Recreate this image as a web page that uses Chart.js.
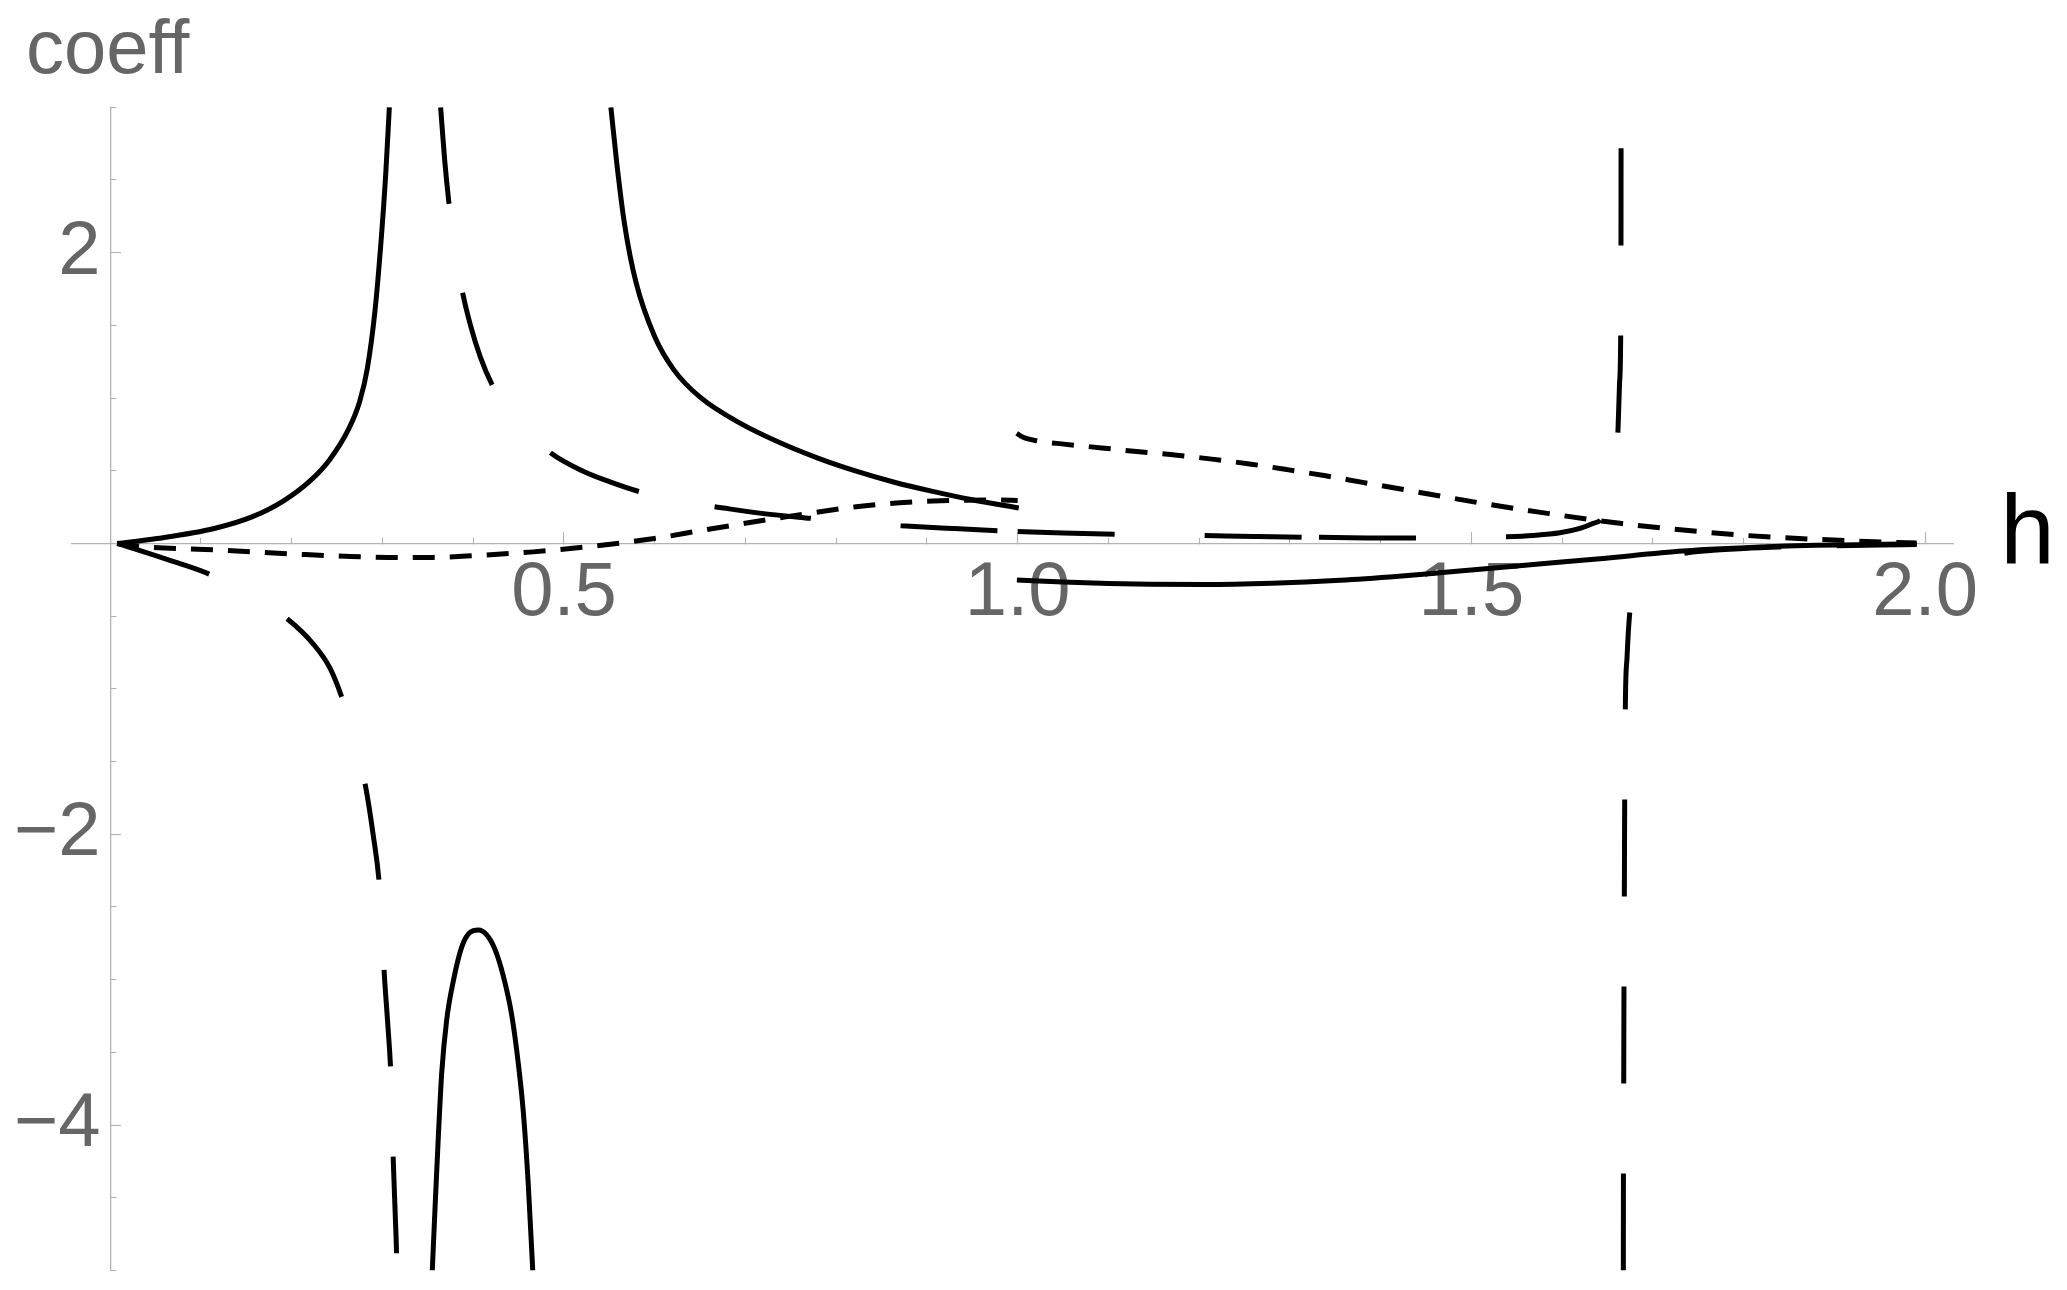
<!DOCTYPE html>
<html>
<head>
<meta charset="utf-8">
<script src="https://cdn.jsdelivr.net/npm/chart.js@4.4.1/dist/chart.umd.min.js"></script>
<style>
html,body{margin:0;padding:0;background:#ffffff;}
#wrap{width:2067px;height:1290px;position:relative;}
</style>
</head>
<body>
<div id="wrap"><canvas id="c" width="2067" height="1290"></canvas></div>
<script>
// ---------- axes ----------
const hMin = -0.042, hMax = 2.031;
const coeffMin = -5, coeffMax = 3;
const xMinorTicks = [0.1,0.2,0.3,0.4,0.5,0.6,0.7,0.8,0.9,1.0,1.1,1.2,1.3,1.4,1.5,1.6,1.7,1.8,1.9,2.0];
const xMajorTicks = [0.5,1.0,1.5,2.0];
const xTickLabels = ['0.5','1.0','1.5','2.0'];
const yMinorTicks = [-5,-4.5,-4,-3.5,-3,-2.5,-2,-1.5,-1,-0.5,0.5,1,1.5,2,2.5,3];
const yMajorTicks = [-4,-2,2];
const yTickLabels = ['\u22124','\u22122','2'];
const xAxisTitle = 'h';
const yAxisTitle = 'coeff';

// ---------- series: [h, coeff] ----------
// solid curves
const solidA = [[0.0077,0],[0.0515,0.034],[0.1147,0.103],[0.1569,0.184],[0.1906,0.291],[0.2202,0.43],[0.2412,0.571],[0.2624,0.782],[0.2749,0.976],[0.2834,1.206],[0.2918,1.602],[0.2982,2.058],[0.3035,2.53],[0.3076,3.0]];
const solidB = [[0.5517,3.0],[0.558,2.627],[0.5665,2.207],[0.5792,1.8],[0.6002,1.419],[0.6213,1.192],[0.65,1.006],[0.6955,0.822],[0.7376,0.694],[0.7798,0.587],[0.822,0.497],[0.8641,0.421],[0.9063,0.358],[0.9485,0.302],[1.0012,0.244]];
const solidC = [[0.9991,-0.252],[1.05,-0.266],[1.1,-0.276],[1.1458,-0.281],[1.2054,-0.283],[1.28,-0.274],[1.3554,-0.253],[1.42,-0.225],[1.4679,-0.2],[1.5804,-0.138],[1.6417,-0.105],[1.7334,-0.052],[1.84,-0.02],[1.8802,-0.013],[1.94,-0.007],[1.9906,-0.003]];
const solidD = [[0.3549,-5.0],[0.3579,-4.576],[0.3616,-4.076],[0.3653,-3.642],[0.3708,-3.276],[0.3781,-3.009],[0.3873,-2.776],[0.3965,-2.675],[0.4056,-2.659],[0.4149,-2.692],[0.424,-2.792],[0.4332,-2.976],[0.4424,-3.242],[0.4497,-3.576],[0.4552,-3.909],[0.4607,-4.409],[0.4656,-5.0]];
// short-dashed curves
const shortLower = [[0.0077,0],[0.0328,-0.02],[0.1174,-0.045],[0.2091,-0.075],[0.265,-0.09],[0.3213,-0.097],[0.356,-0.096],[0.4001,-0.084],[0.4662,-0.058],[0.5213,-0.026],[0.5621,0.003],[0.5998,0.034],[0.6533,0.091],[0.7334,0.172],[0.822,0.252],[0.87,0.28],[0.9063,0.292],[0.9781,0.298],[1.0,0.296]];
const shortUpper = [[0.9989,0.757],[1.006,0.73],[1.0209,0.706],[1.051,0.683],[1.0926,0.657],[1.134,0.63],[1.1755,0.607],[1.2163,0.578],[1.2574,0.545],[1.2986,0.506],[1.3394,0.465],[1.3802,0.42],[1.4205,0.376],[1.4621,0.33],[1.5025,0.286],[1.5425,0.245],[1.5858,0.205],[1.6267,0.168],[1.6659,0.137],[1.708,0.107],[1.7502,0.082],[1.7915,0.06],[1.8324,0.043],[1.8734,0.03],[1.9146,0.019],[1.9568,0.009],[1.9905,0.003]];
// long-dashed curves (pieces)
const longUpper1 = [[0.3641,3.0],[0.3685,2.64],[0.3733,2.339],[0.38,2.02],[0.3881,1.731],[0.397,1.5],[0.408,1.28],[0.421,1.089],[0.437,0.93],[0.455,0.8],[0.4851,0.624],[0.52,0.5],[0.55,0.425],[0.5834,0.356],[0.625,0.3],[0.666,0.252]];
const longUpper2 = [[0.666,0.252],[0.72,0.205],[0.7713,0.173],[0.82,0.145],[0.8717,0.122],[0.93,0.102],[0.9788,0.087],[1.0,0.082]];
const longUpper3 = [[1.0,0.082],[1.05,0.072],[1.1065,0.063],[1.155,0.059],[1.2053,0.054],[1.26,0.048],[1.3136,0.043],[1.332,0.042]];
const longUpper4 = [[1.332,0.042],[1.385,0.038],[1.4397,0.037],[1.49,0.039],[1.5388,0.046],[1.5681,0.055],[1.5975,0.073],[1.6196,0.103],[1.6343,0.138],[1.6435,0.172],[1.651,0.3],[1.6565,0.47],[1.6598,0.64],[1.6615,0.779],[1.6632,1.1],[1.6645,1.441],[1.6648,2.073],[1.6649,2.747],[1.665,3.0]];
const longLower = [[0.0077,0],[0.06,-0.105],[0.1107,-0.215],[0.155,-0.355],[0.1963,-0.525],[0.2238,-0.692],[0.2422,-0.858],[0.2562,-1.076],[0.27,-1.36],[0.2815,-1.675],[0.2899,-2.009],[0.2965,-2.342],[0.2995,-2.65],[0.302,-2.959],[0.3058,-3.3],[0.3091,-3.632],[0.3107,-3.95],[0.312,-4.259],[0.314,-4.6],[0.3157,-4.926],[0.3159,-5.0]];
const longRight1 = [[1.6674,-5.0],[1.6675,-4.336],[1.6678,-3.721],[1.6681,-3.048],[1.6685,-2.421],[1.6689,-1.753],[1.6696,-1.127],[1.6715,-0.78],[1.6747,-0.459],[1.679,-0.33],[1.686,-0.22],[1.695,-0.155],[1.71,-0.105],[1.734,-0.068],[1.76,-0.05],[1.8,-0.035],[1.84,-0.025],[1.87,-0.02],[1.9026,-0.016]];
const longRight2 = [[1.9026,-0.016],[1.95,-0.011],[1.9906,-0.008]];

// ---------- styles ----------
const LONG_DASH = [97, 90];
const SHORT_DASH = [22, 15];
const LINE_W = 5;
const AXIS_COLOR = '#b3b3b3';
const LABEL_COLOR = '#666666';
const FONT = '"Liberation Sans", Arial, sans-serif';

function ds(arr, dash) {
  return {
    data: arr.map(p => ({x: p[0], y: p[1]})),
    showLine: true,
    borderColor: '#000000',
    backgroundColor: '#000000',
    borderWidth: LINE_W,
    borderDash: dash,
    borderDashOffset: 0,
    borderCapStyle: 'butt',
    borderJoinStyle: 'round',
    pointRadius: 0,
    pointHoverRadius: 0,
    cubicInterpolationMode: 'monotone',
    fill: false
  };
}

const datasets = [
  ds(solidA, []), ds(solidB, []), ds(solidC, []), ds(solidD, []),
  ds(shortLower, SHORT_DASH), ds(shortUpper, SHORT_DASH),
  ds(longUpper1, LONG_DASH), ds(longUpper2, LONG_DASH), ds(longUpper3, LONG_DASH), ds(longUpper4, LONG_DASH),
  ds(longLower, LONG_DASH), ds(longRight1, LONG_DASH), ds(longRight2, LONG_DASH)
];

const titlePlugin = {
  id: 'axisTitles',
  afterDraw(chart) {
    const ctx = chart.ctx;
    const xs = chart.scales.x, ys = chart.scales.y;
    ctx.save();
    ctx.textAlign = 'left';
    ctx.textBaseline = 'alphabetic';
    ctx.fillStyle = LABEL_COLOR;
    ctx.font = '76px ' + FONT;
    ctx.fillText(yAxisTitle, 26, 73);
    ctx.fillStyle = '#000000';
    ctx.font = '98px ' + FONT;
    ctx.fillText(xAxisTitle, xs.right + 47, ys.getPixelForValue(0) + 20);
    ctx.restore();
  }
};

new Chart(document.getElementById('c'), {
  type: 'scatter',
  data: { datasets },
  plugins: [titlePlugin],
  options: {
    responsive: false,
    animation: false,
    events: [],
    layout: { padding: { left: 72.1, top: 107.2, right: 113.7, bottom: 19.5 } },
    plugins: { legend: { display: false }, tooltip: { enabled: false } },
    scales: {
      x: {
        type: 'linear', min: hMin, max: hMax,
        position: { y: 0 },
        afterBuildTicks: s => { s.ticks = xMinorTicks.map(v => ({value: v})); },
        ticks: { display: false, autoSkip: false },
        grid: { display: true, drawOnChartArea: false, drawTicks: true, tickLength: -6.5, tickColor: AXIS_COLOR, tickWidth: 1.1 },
        border: { display: true, color: AXIS_COLOR, width: 1.3 }
      },
      xMajor: {
        type: 'linear', axis: 'x', min: hMin, max: hMax,
        position: { y: 0 },
        afterBuildTicks: s => { s.ticks = xMajorTicks.map(v => ({value: v})); },
        ticks: {
          display: true, autoSkip: false, maxRotation: 0, minRotation: 0,
          padding: 23.4, color: LABEL_COLOR,
          font: { family: FONT, size: 76, lineHeight: 1 },
          callback: (v, i) => xTickLabels[i]
        },
        grid: { display: true, drawOnChartArea: false, drawTicks: true, tickLength: -11, tickColor: AXIS_COLOR, tickWidth: 1.1 },
        border: { display: false }
      },
      y: {
        type: 'linear', min: coeffMin, max: coeffMax,
        position: { x: 0 },
        afterBuildTicks: s => { s.ticks = yMinorTicks.map(v => ({value: v})); },
        ticks: { display: false, autoSkip: false },
        grid: { display: true, drawOnChartArea: false, drawTicks: true, tickLength: -6.5, tickColor: AXIS_COLOR, tickWidth: 1.1 },
        border: { display: true, color: AXIS_COLOR, width: 1.3 }
      },
      yMajor: {
        type: 'linear', axis: 'y', min: coeffMin, max: coeffMax,
        position: { x: 0 },
        afterBuildTicks: s => { s.ticks = yMajorTicks.map(v => ({value: v})); },
        ticks: { display: false, autoSkip: false },
        grid: { display: true, drawOnChartArea: false, drawTicks: true, tickLength: -11, tickColor: AXIS_COLOR, tickWidth: 1.1 },
        border: { display: false }
      },
      yLab: {
        type: 'linear', axis: 'y', min: coeffMin, max: coeffMax,
        position: { x: -0.0107 },
        afterBuildTicks: s => { s.ticks = yMajorTicks.map(v => ({value: v})); },
        ticks: {
          display: true, autoSkip: false, padding: 0, color: LABEL_COLOR,
          font: { family: FONT, size: 76, lineHeight: 0.3 },
          callback: (v, i) => yTickLabels[i]
        },
        grid: { display: false },
        border: { display: false }
      }
    }
  }
});
</script>
</body>
</html>
